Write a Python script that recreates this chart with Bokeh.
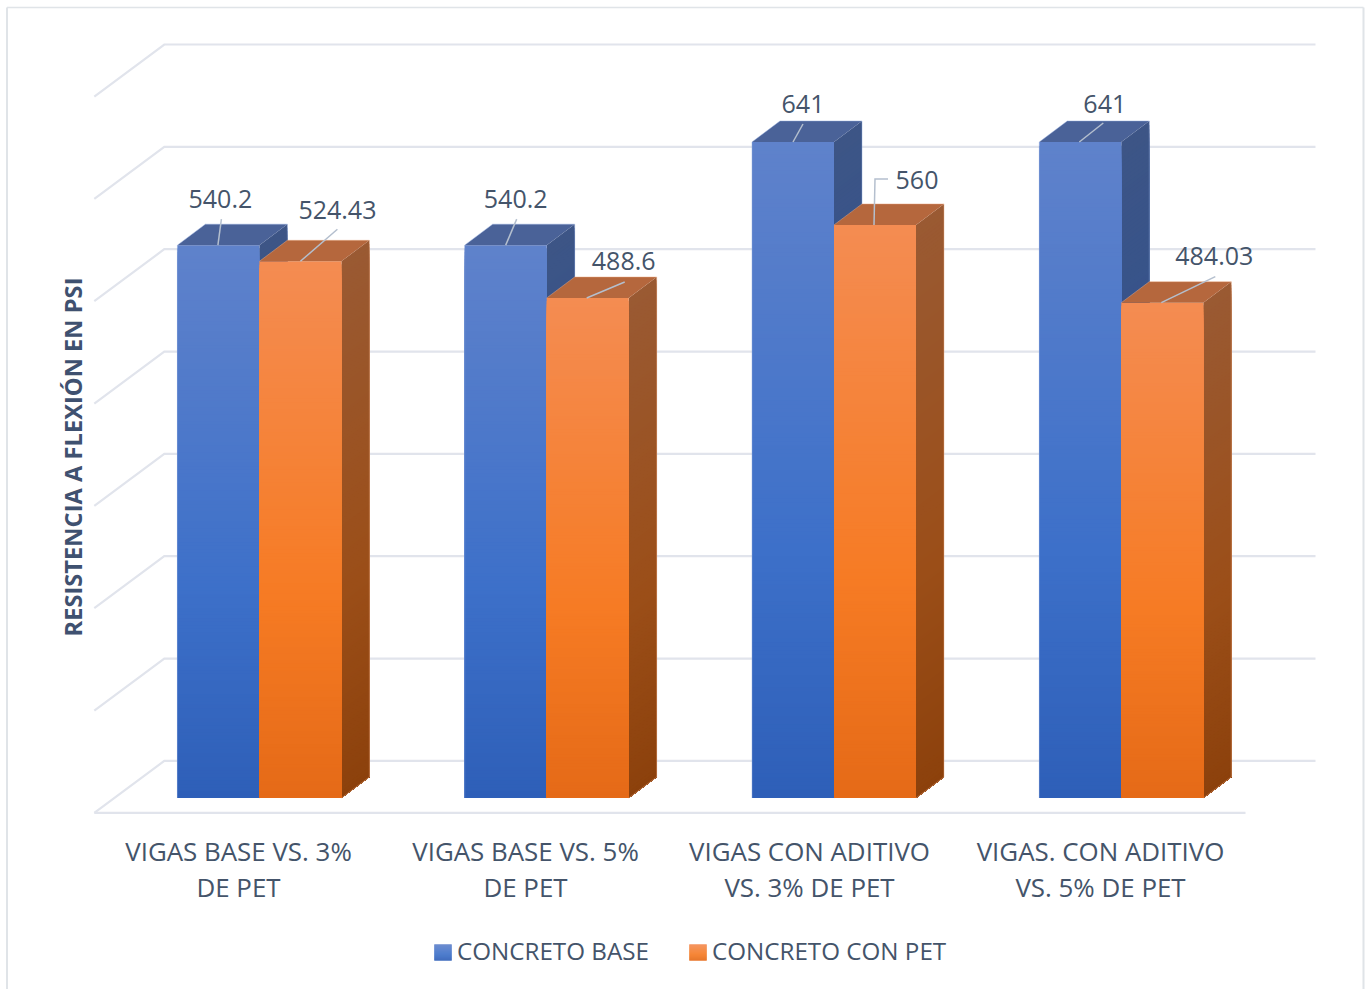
from bokeh.core.properties import value
from bokeh.embed import file_html
from bokeh.models import Range1d
from bokeh.plotting import figure
from bokeh.resources import INLINE
import math

# Chart data
categories = [
    ["VIGAS BASE VS. 3%", "DE PET"],
    ["VIGAS BASE VS. 5%", "DE PET"],
    ["VIGAS CON ADITIVO", "VS. 3% DE PET"],
    ["VIGAS. CON ADITIVO", "VS. 5% DE PET"],
]
concreto_base = [540.2, 540.2, 641, 641]
concreto_pet = [524.43, 488.6, 560, 484.03]
series_names = ["CONCRETO BASE", "CONCRETO CON PET"]
axis_title = "RESISTENCIA A FLEXIÓN EN PSI"
grid_values = [0, 100, 200, 300, 400, 500, 600, 700]

# Canvas geometry and scale factors (pixels)
W, H = 1369, 989
X0 = 258.9          # boundary between the two bars of the first group
DX = 287.3          # distance between groups
PY = 1.0234         # pixels per PSI
Y0 = 797.5          # screen row of value 0 on the bar fronts
BAR_W = 82.0
BAR_DEPTH = (28.0, 21.0)
FLOOR_DEPTH = (70.0, 52.0)
FLOOR_FRONT = (93.8, 812.4)

TEXT = "#44546A"
GRID = "#E1E4EC"
BORDER = "#E0E4E8"
LEADER = "#B4BFCE"

BLUE_FRONT = ["#5F82CB", "#3D70C9", "#2E5FB8"]
BLUE_SIDE = ["#3D5586", "#2F5190", "#234A8C"]
BLUE_TOP = "#4A6298"
BLUE_EDGE = "#8FA8DC"
ORANGE_FRONT = ["#F48C52", "#F67B24", "#E56A17"]
ORANGE_SIDE = ["#9A5A33", "#9B4E18", "#8C410C"]
ORANGE_TOP = "#B5673D"
ORANGE_EDGE = "#EDAE88"
STOP = 0.62

# Label anchors relative to each bar's top-centre: leader path, text centre
base_leaders = [
    [(-0.5, 0), (3, -26)],
    [(0, 0), (11, -26)],
    [(0, 0), (10, -18)],
    [(-1, 0), (23, -19)],
]
pet_leaders = [
    [(0, 0), (37, -32)],
    [(-1, 0), (37, -16)],
    [(-1, 0), (0, -46), (13, -46)],
    [(-1, 0), (53, -26)],
]
base_text = [(2, -46.5), (10, -46.5), (10, -38.5), (24.5, -38.5)]
pet_text = [(37, -51.5), (36, -36.5), (42, -44.5), (52, -46.5)]


def sx(px):
    return (px - X0) / DX


def sy(px):
    return (Y0 - px) / PY


p = figure(
    width=W, height=H, output_backend="svg", toolbar_location=None,
    x_range=Range1d(sx(0), sx(W)), y_range=Range1d(sy(H), sy(0)),
    min_border=0, outline_line_color=None, background_fill_color="white",
    border_fill_color="white",
)
p.axis.visible = False
p.grid.visible = False


def mix(stops, t):
    def rgb(c):
        return [int(c[i:i + 2], 16) for i in (1, 3, 5)]

    if t < STOP:
        a, b, u = stops[0], stops[1], t / STOP
    else:
        a, b, u = stops[1], stops[2], (t - STOP) / (1 - STOP)
    ca, cb = rgb(a), rgb(b)
    return "#%02x%02x%02x" % tuple(round(x + (y - x) * u) for x, y in zip(ca, cb))


dx_u = BAR_DEPTH[0] / DX
dy_u = BAR_DEPTH[1] / PY
w_u = BAR_W / DX

# Outer frame of the chart area
p.line([sx(6.5), sx(6.5)], [sy(H), sy(7)], line_color=BORDER, line_width=2)
p.line([sx(6.5), sx(1363)], [sy(7), sy(7)], line_color=BORDER, line_width=1.6)
p.line([sx(1363), sx(1363)], [sy(7), sy(H)], line_color=BORDER, line_width=2)

# Back wall, side wall and floor gridlines
fx, fy = FLOOR_FRONT
for v in grid_values:
    back = sy(fy - FLOOR_DEPTH[1]) + v
    front = sy(fy) + v
    xs = [sx(fx), sx(fx + FLOOR_DEPTH[0]), sx(1315)]
    ys = [front, back, back]
    p.line(xs, ys, line_color=GRID, line_width=2.2, line_join="miter")
p.line([sx(fx), sx(1245)], [sy(fy), sy(fy)], line_color=GRID, line_width=2.2)


def draw_bar(left, val, front, side, top, edge, left_edge, n=160):
    right = left + w_u
    # Gradient: nested shapes painted tallest first, so no seams show between bands
    for i in range(n - 1, -1, -1):
        hi = val * (i + 1) / n
        t = 1 - (i + 0.5) / n
        p.patch([right, right + dx_u, right + dx_u, right],
                [0, dy_u, hi + dy_u, hi], fill_color=mix(side, t), line_color=None)
    for i in range(n - 1, -1, -1):
        hi = val * (i + 1) / n
        t = 1 - (i + 0.5) / n
        p.patch([left, right, right, left], [0, 0, hi, hi],
                fill_color=mix(front, t), line_color=None)
    p.patch([left, right, right + dx_u, left + dx_u],
            [val, val, val + dy_u, val + dy_u], fill_color=top, line_color=None)
    # Faint highlight along the outline of the box
    if left_edge:
        p.line([left, left], [0, val], line_color=edge, line_width=1, line_alpha=0.45)
    p.line([left, left + dx_u, right + dx_u, right + dx_u, right],
           [val, val + dy_u, val + dy_u, dy_u, 0],
           line_color=edge, line_width=1, line_alpha=0.45)


def draw_label(xc, val, path, offset):
    xs = [xc + a / DX for a, b in path]
    ys = [val - b / PY for a, b in path]
    p.line(xs, ys, line_color=LEADER, line_width=1.5, line_join="miter")
    return xc + offset[0] / DX, val - offset[1] / PY


label_x, label_y, label_s = [], [], []
for i in range(len(categories)):
    b, o = concreto_base[i], concreto_pet[i]
    draw_bar(i - w_u, b, BLUE_FRONT, BLUE_SIDE, BLUE_TOP, BLUE_EDGE, True)
    draw_bar(i, o, ORANGE_FRONT, ORANGE_SIDE, ORANGE_TOP, ORANGE_EDGE, False)
    x1, y1 = draw_label(i - w_u / 2, b, base_leaders[i], base_text[i])
    x2, y2 = draw_label(i + w_u / 2, o, pet_leaders[i], pet_text[i])
    label_x += [x1, x2]
    label_y += [y1, y2]
    label_s += [f"{b:g}", f"{o:g}"]

FONT = value("Open Sans")
p.text(label_x, label_y, text=label_s, text_font=FONT, text_font_size="25px",
       text_color=TEXT, text_align="center", text_baseline="middle")

# Two-line category labels
cat_centres = [238, 525, 809, 1100]
for c, lines in zip(cat_centres, categories):
    p.text([sx(c)] * 2, [sy(850.5), sy(886.5)], text=lines, text_font=FONT,
           text_font_size="25.9px", text_color=TEXT, text_align="center",
           text_baseline="middle")

# Vertical axis title
p.text([sx(72.5)], [sy(456.5)], text=[axis_title], text_font=FONT,
       text_font_size="23.7px", text_font_style="bold", text_color="#3F5170",
       angle=math.pi / 2, text_align="center", text_baseline="middle")

# Legend with gradient swatches
swatches = [(434, BLUE_FRONT, 456.5), (689, ORANGE_FRONT, 711.5)]
for (left, stops, tx), name in zip(swatches, series_names):
    n = 16
    cols = [mix(stops, (k + 0.5) / n) for k in range(n)]
    p.quad(left=[sx(left)] * n, right=[sx(left + 17)] * n,
           top=[sy(944 + k) for k in range(n)],
           bottom=[sy(944 + k + 1) for k in range(n)],
           fill_color=cols, line_color=cols, line_width=0.4)
    p.text([sx(tx)], [sy(949.5)], text=[name], text_font=FONT, text_font_size="24.2px",
           text_color=TEXT, text_align="left", text_baseline="middle")

open("out.html", "w").write(file_html(p, INLINE))
